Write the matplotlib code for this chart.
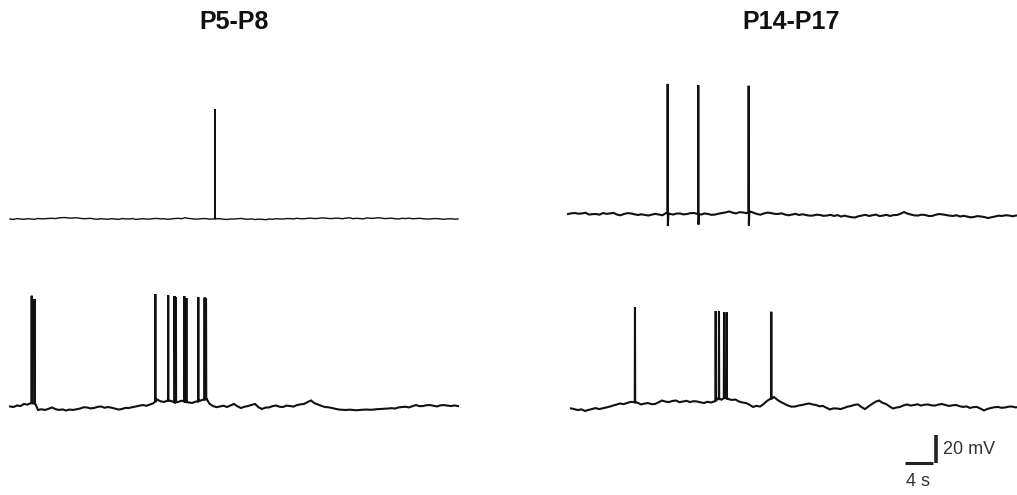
import numpy as np
import matplotlib
matplotlib.use("Agg")
import matplotlib.pyplot as plt

plt.rcParams['font.family'] = ['Liberation Sans', 'DejaVu Sans']

# scale: 7 px per second, 1.4 px per mV at 100 dpi
PX_PER_S = 7.0
PX_PER_MV = 1.4
W, H = 1017, 495

# baseline membrane potential every 0.5 s (mV relative to rest)
t_grid = np.arange(0, 64.5, 0.5)

p5_top_base = [
    0, -0.3, 0.3, 0, -0.2, 0.2, 0, -0.2, 0.4, 0.1, 0.2, 0.4, 0.5, 0.3, 0.8, 1.0,
    1.0, 0.6, 0.7, 0.9, 0.5, 0.2, 0.3, 0.5, 0, -0.2, 0.2, 0, -0.2, 0.2, 0, -0.3,
    0.3, 0.1, 0, 0.3, -0.3, 0, 0.2, -0.1, 0, 0.3, 0.4, 0.1, 0.2, -0.2, 0, 0.3,
    0.5, 0.2, 0.9, 0.4, 0.2, -0.1, 0, 0.3, 0.3, -0.1, 0, 0.2, 0.2, -0.2, -0.3, 0,
    0, 0.2, 0.4, 0, -0.2, 0.1, -0.4, -0.1, -0.2, -0.5, 0, -0.2, 0.2, 0, 0, 0.3,
    0.3, 0.1, 0.5, 0.2, 0.2, 0.5, 0.6, 0.3, 0.4, 0.8, 0.7, 0.4, 0.3, 0.6, 0.5, 0.2,
    0.6, 0.9, 0.2, 0.5, 0.3, 0.1, 0.8, 0.5, 0.5, 0.9, 0.7, 0.3, 0.4, 0.6, 0.2, 0,
    0.5, 0.3, 0.6, 0.2, 0.3, 0.5, 0.2, 0, 0, 0.3, 0.3, 0, -0.2, 0.1, 0.2, -0.1,
    0]
p5_top_spk_t = [29.3]
p5_top_spk_v = [78.6]

p5_bot_base = [
    1.1, 0.7, 1.8, 1.4, 2.9, 2.4, 3.6, 3.2, -1.4, -0.9, -1.4, -0.6, 0.4, -0.8, -1.4, -1.0,
    -1.8, -1.1, -1.4, -0.9, -0.4, 0.5, 0.4, -0.3, 0, 0.8, 1.1, 0.2, 0.7, 0.2, -0.4, -1.1,
    -0.7, 0.1, 0, 0.6, 1.1, 1.7, 2.1, 1.6, 2.5, 3.4, 6.1, 4.8, 4.3, 5.3, 5.0, 4.1,
    4.3, 5.2, 4.6, 4.0, 3.6, 4.5, 5.0, 5.8, 6.4, 3.0, 1.4, 0.6, 1.1, 1.6, 0.7, 1.8,
    2.9, 1.2, 0, 0.9, 1.4, 2.2, 2.9, 0.5, -0.7, 0.3, 0.4, 1.3, 1.8, 0.9, 0.7, 1.7,
    1.4, 1.0, 2.1, 2.6, 2.9, 4.2, 5.4, 3.4, 2.5, 1.5, 0.7, 0.5, 0, -0.6, -1.1, -1.3,
    -1.4, -1.2, -1.4, -1.6, -1.4, -1.2, -1.1, -1.3, -1.1, -0.8, -0.7, -0.5, -0.4, -0.1, -0.4, 0.4,
    0.7, 0.9, 0.4, 1.3, 2.1, 1.3, 1.4, 2.0, 2.1, 1.6, 1.1, 1.9, 2.1, 1.7, 1.4, 1.8,
    1.4]
p5_bot_spk_t = [3.1, 3.5, 20.76, 22.6, 23.5, 23.7, 24.9, 25.2, 26.9, 27.8, 28.0]
p5_bot_spk_v = [80.2, 77.9, 81.4, 80.5, 80.0, 79.3, 80.0, 78.6, 79.3, 78.9, 78.6]

p14_top_base = [
    0, 0.5, 0.7, 0.2, 0.4, 0.9, -0.4, -0.1, 0, -0.5, 0.7, 0.1, 0.4, 0.8, -0.4, -0.9,
    0, 0.6, 0.4, -0.2, -0.7, -0.2, -0.7, -1.1, -0.4, 0.1, -0.4, -0.9, 0.7, 0.2, -0.4, 0.3,
    0.4, -0.3, 0, 0.6, 0.7, 0.1, -0.4, 0.4, 0, -0.6, -0.4, 0.2, 0.7, 1.1, 1.8, 1.0,
    0.4, 1.3, 1.1, 0.6, 1.8, 0.9, 0, -0.5, 0.4, 1.0, 0.7, 0.1, 0, 0.5, -0.4, -0.9,
    -0.4, 0.1, -0.7, -0.2, -0.7, -1.2, -1.1, -0.5, -0.7, -1.3, -1.1, -0.6, -1.4, -0.8, -1.8, -1.2,
    -1.8, -2.3, -2.5, -1.6, -1.1, -0.6, -1.4, -0.9, -0.4, -1.5, -1.1, -0.6, -1.4, -0.8, -0.7, 0.2,
    1.4, 0.3, -0.4, -1.0, -1.1, -0.5, -0.7, -1.4, -1.4, -0.6, 0, -0.3, -0.7, -1.2, -1.4, -0.9,
    -1.8, -1.3, -1.8, -2.4, -2.1, -1.5, -1.8, -2.2, -2.9, -2.3, -1.8, -1.2, -1.4, -0.9, -1.1, -1.6,
    -1.1]
p14_top_spk_t = [14.24, 18.61, 25.81]
p14_top_spk_v = [92.9, 92.1, 91.6]
p14_top_ahp = [-8.6, -7.5, -8.2]

p14_bot_base = [
    -2.4, -3.0, -3.6, -3.1, -4.3, -3.5, -2.9, -2.2, -2.9, -2.4, -1.8, -1.2, -0.4, 0.3, 1.1, 0.6,
    1.4, 2.2, 2.1, 1.6, 0.4, 1.0, 1.4, 0.6, 0.7, 1.9, 3.2, 2.4, 2.1, 2.9, 3.2, 2.0,
    2.5, 3.0, 2.1, 2.7, 2.5, 1.9, 1.4, 2.3, 1.8, 2.6, 4.6, 3.8, 5.4, 4.2, 3.6, 3.9,
    2.5, 1.8, 1.4, 0.2, -1.4, -0.6, -1.1, 0.6, 2.9, 4.4, 5.7, 3.6, 2.1, 0.8, -0.4, -1.2,
    -1.1, -0.4, 0, 0.6, 1.1, 0.4, 0, -0.9, -0.7, -2.0, -3.2, -2.4, -2.5, -2.9, -2.1, -1.2,
    -0.7, 0.1, 0.4, -1.5, -2.9, -1.0, 0.7, 2.3, 3.2, 1.6, 0.7, -1.0, -2.5, -1.8, -1.4, -0.3,
    0.4, -0.4, 0, 0.5, -0.4, 0.2, 0.4, -0.3, -0.4, 0.3, 0.7, 0, -0.7, -0.2, 0, -0.8,
    -1.4, -1.0, -2.1, -1.5, -1.4, -2.6, -3.9, -2.8, -2.1, -1.6, -1.4, -2.0, -1.8, -1.2, -1.1, -1.7,
    -1.4]
p14_bot_spk_t = [9.14, 20.67, 21.14, 21.86, 22.24, 28.61]
p14_bot_spk_v = [69.8, 67.1, 66.8, 66.4, 66.2, 66.6]

titles = ["P5-P8", "P14-P17"]


def with_spikes(t_base, v_base, spk_t, spk_v, ahp=None):
    t = list(t_base)
    v = list(v_base)
    for i, (st, sv) in enumerate(zip(spk_t, spk_v)):
        foot = float(np.interp(st, t_base, v_base))
        after = ahp[i] if ahp is not None else foot
        t += [st - 0.03, st, st + 0.03, st + 0.1]
        v += [foot, sv, after, foot]
    order = np.argsort(t, kind="stable")
    return np.asarray(t)[order], np.asarray(v)[order]


fig = plt.figure(figsize=(W / 100, H / 100), dpi=100)
ax = fig.add_axes([0, 0, 1, 1])
ax.set_xlim(0, W / PX_PER_S)
ax.set_ylim(0, H / PX_PER_MV)
ax.axis("off")

# (trace, spikes, x start px, rest level px, linewidth)
traces = [
    (p5_top_base, p5_top_spk_t, p5_top_spk_v, None, 10, 219, 1.0),
    (p5_bot_base, p5_bot_spk_t, p5_bot_spk_v, None, 10, 408, 1.5),
    (p14_top_base, p14_top_spk_t, p14_top_spk_v, p14_top_ahp, 568, 214, 1.5),
    (p14_bot_base, p14_bot_spk_t, p14_bot_spk_v, None, 571, 405, 1.5),
]
for base, st, sv, ahp, x0, y0, lw in traces:
    t, v = with_spikes(t_grid, base, st, sv, ahp)
    ax.plot(t + x0 / PX_PER_S, v + (H - y0) / PX_PER_MV, color="#111111",
            lw=lw, solid_joinstyle="miter")

fig.text(234 / W, 1 - 22 / H, titles[0], ha="center", va="center",
         fontsize=18, fontweight="bold", color="#111111")
fig.text(791 / W, 1 - 22 / H, titles[1], ha="center", va="center",
         fontsize=18, fontweight="bold", color="#111111")

# scale bar: 4 s, 20 mV (small gap at the corner)
sb_x = 936 / PX_PER_S
sb_y = (H - 463) / PX_PER_MV
gap = 0.5
ax.plot([sb_x - gap - 4, sb_x - gap], [sb_y, sb_y], color="#222222", lw=2.2, solid_capstyle="butt")
ax.plot([sb_x, sb_x], [sb_y, sb_y + 20], color="#222222", lw=2.6, solid_capstyle="butt")
ax.text(sb_x + 1.0, sb_y + 10, "20 mV", ha="left", va="center", fontsize=13, color="#333333")
ax.text(sb_x - gap - 2, sb_y - 13, "4 s", ha="center", va="center", fontsize=13, color="#333333")

fig.savefig("out.png", dpi=100)
